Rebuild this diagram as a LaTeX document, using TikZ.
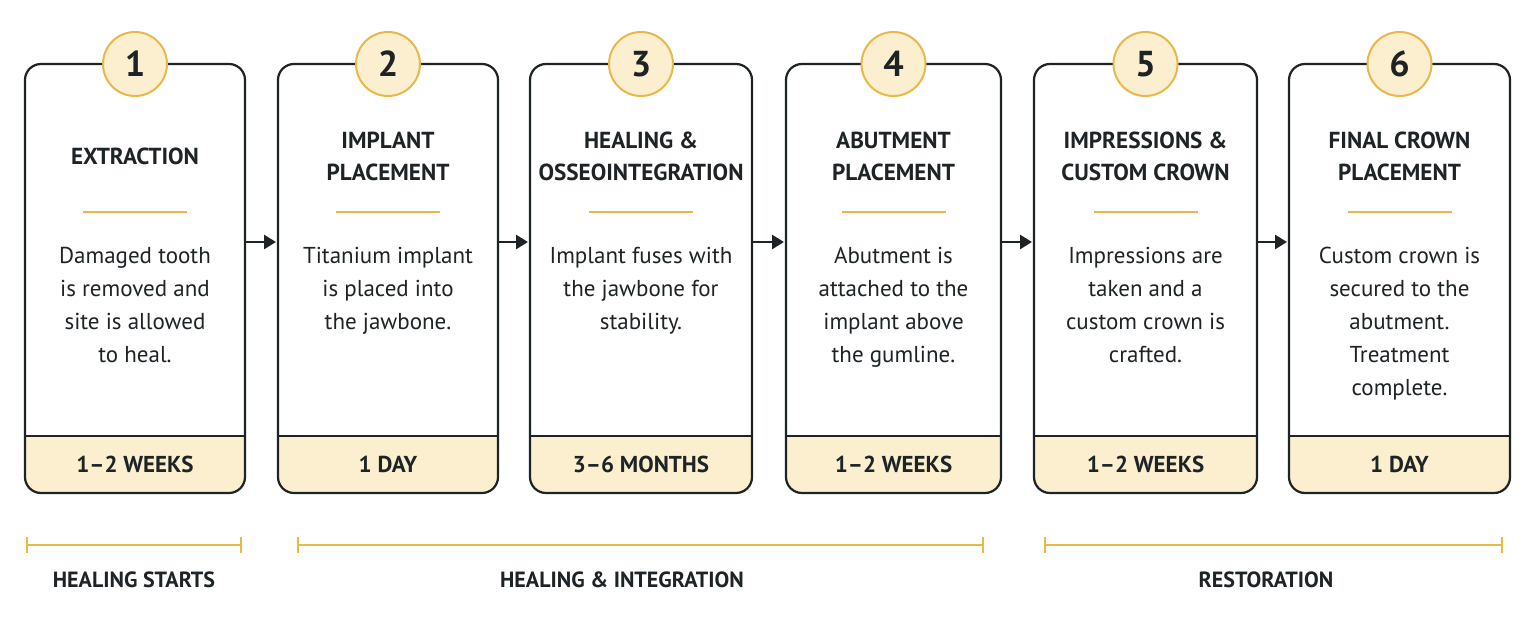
\documentclass[tikz,border=0pt]{standalone}
\usepackage{fontspec}
\setmainfont{PT Sans}
\usetikzlibrary{arrows.meta,positioning}
\definecolor{gold}{HTML}{E8B84A}
\definecolor{cream}{HTML}{FBEFCF}
\definecolor{ink}{HTML}{1E2326}
\tikzset{
  card/.style={draw=ink, line width=1.1pt, rounded corners=8pt},
  badge/.style={circle, draw=gold, line width=1pt, fill=cream, minimum size=32pt, inner sep=0pt, font=\fontsize{18}{18}\selectfont\bfseries, text=ink},
  title/.style={align=center, font=\fontsize{11.6}{16}\selectfont\bfseries, text=ink},
  body/.style={align=center, font=\fontsize{11.5}{16.5}\selectfont, text=ink},
  dur/.style={font=\fontsize{11.5}{12}\selectfont\bfseries, text=ink},
  phase/.style={font=\fontsize{11}{12}\selectfont\bfseries, text=ink},
  flow/.style={-{Triangle[length=6pt,width=7pt]}, line width=1.3pt, draw=ink},
}
\begin{document}
\begin{tikzpicture}[x=0.5pt,y=-0.5pt]
  \useasboundingbox[fill=white] (0,0) rectangle (1535,620);

  % cards: left/right/number/title/body/duration
  \foreach \l/\r/\n/\t/\b/\d in {
      25/245/1/EXTRACTION/{Damaged tooth\\is removed and\\site is allowed\\to heal.}/1--2 WEEKS,
      278/498/2/{IMPLANT\\PLACEMENT}/{Titanium implant\\is placed into\\the jawbone.}/1 DAY,
      530/752/3/{HEALING \&\\OSSEOINTEGRATION}/{Implant fuses with\\the jawbone for\\stability.}/3--6 MONTHS,
      786/1001/4/{ABUTMENT\\PLACEMENT}/{Abutment is\\attached to the\\implant above\\the gumline.}/1--2 WEEKS,
      1034/1257/5/{IMPRESSIONS \&\\CUSTOM CROWN}/{Impressions are\\taken and a\\custom crown is\\crafted.}/1--2 WEEKS,
      1289/1510/6/{FINAL CROWN\\PLACEMENT}/{Custom crown is\\secured to the\\abutment.\\Treatment\\complete.}/1 DAY} {
    \fill[cream, rounded corners=8pt] (\l,436) rectangle (\r,493);
    \fill[cream] (\l,436) rectangle (\r,470);
    \draw[card] (\l,64) rectangle (\r,493);
    \draw[ink, line width=1.1pt] (\l,436) -- (\r,436);
    \coordinate (w\n) at (\l,242);
    \coordinate (e\n) at (\r,242);
    \node[badge] (n\n) at ({(\l+\r)/2},64) {\n};
    \node[title] (t\n) at ({(\l+\r)/2},156) {\t};
    \draw[gold, line width=0.8pt] ({(\l+\r)/2-52},212) -- ({(\l+\r)/2+52},212);
    \node[body, anchor=north] (b\n) at ({(\l+\r)/2},240) {\b};
    \node[dur] (d\n) at ({(\l+\r)/2},464) {\d};
  }

  % step arrows
  \foreach \a/\b in {1/2,2/3,3/4,4/5,5/6} {
    \draw[flow] (e\a) -- ([xshift=-1pt]w\b);
  }

  % phases
  \foreach \l/\r/\m/\p in {27/241/134/HEALING STARTS, 298/983/622/HEALING \& INTEGRATION, 1045/1502/1266/RESTORATION} {
    \draw[gold, line width=1pt] (\l,545) -- (\r,545);
    \draw[gold, line width=1pt] (\l,537) -- (\l,553);
    \draw[gold, line width=1pt] (\r,537) -- (\r,553);
    \node[phase] at (\m,580) {\p};
  }
\end{tikzpicture}
\end{document}
